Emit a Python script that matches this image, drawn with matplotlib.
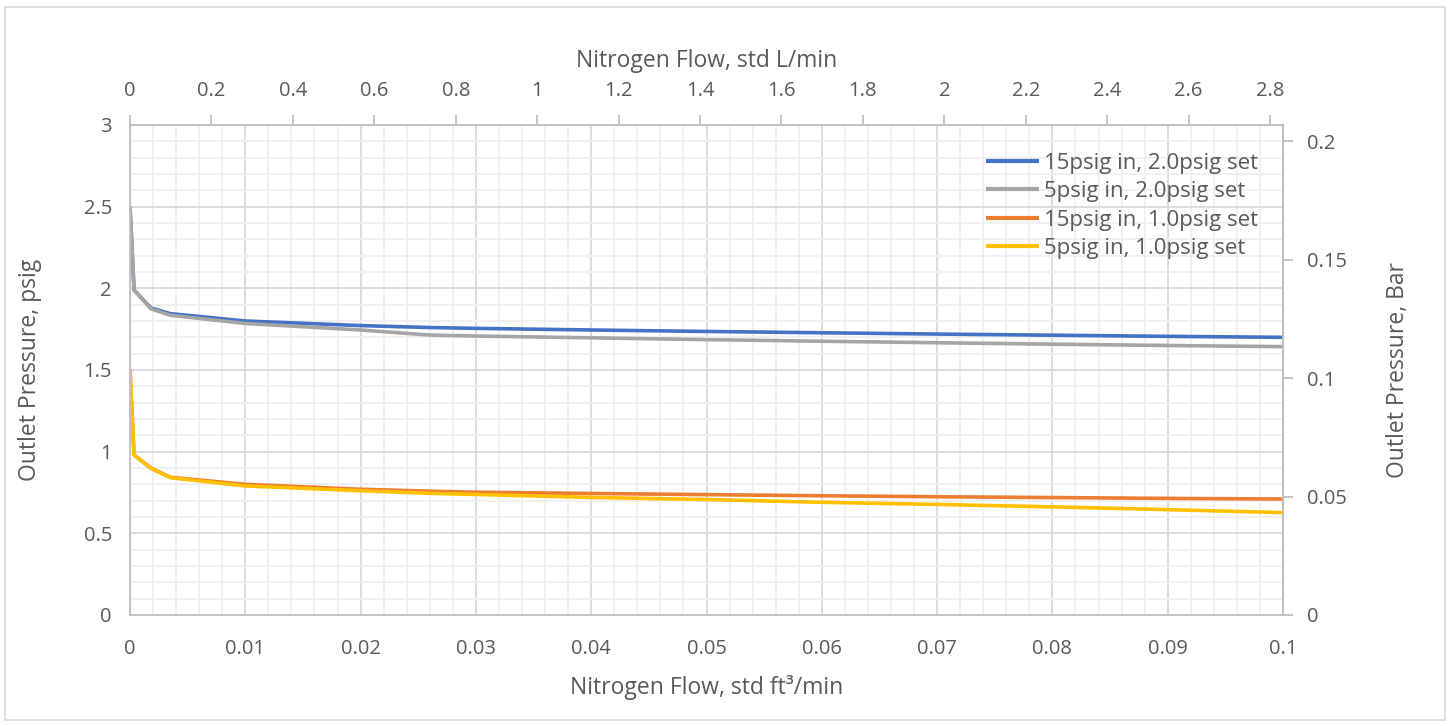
import numpy as np
import matplotlib.pyplot as plt
from matplotlib.ticker import MultipleLocator
from matplotlib.patches import Rectangle

# flow in std ft3/min
flow = [0, 0.00035, 0.0018, 0.0035, 0.01, 0.02, 0.026, 0.03, 0.04, 0.05, 0.06, 0.07, 0.08, 0.09, 0.1]

p_15_20 = [2.5, 1.99, 1.88, 1.845, 1.80, 1.772, 1.76, 1.755, 1.745, 1.736, 1.728, 1.72, 1.713, 1.706, 1.70]
p_5_20 = [2.5, 1.99, 1.875, 1.835, 1.785, 1.745, 1.714, 1.708, 1.697, 1.686, 1.676, 1.667, 1.658, 1.650, 1.643]
p_15_10 = [1.5, 0.98, 0.90, 0.843, 0.80, 0.77, 0.758, 0.752, 0.744, 0.737, 0.730, 0.724, 0.719, 0.714, 0.71]
p_5_10 = [1.5, 0.98, 0.898, 0.841, 0.79, 0.761, 0.745, 0.738, 0.72, 0.707, 0.69, 0.677, 0.662, 0.645, 0.627]

labels = ["15psig in, 2.0psig set", "5psig in, 2.0psig set",
          "15psig in, 1.0psig set", "5psig in, 1.0psig set"]
colors = ["#4472C4", "#A5A5A5", "#ED7D31", "#FFC000"]

LPM = 28.3168
BAR = 0.0689476
txt = "#595959"
TICK = 14.5
LAB = 16.5

plt.rcParams['font.family'] = ['Open Sans', 'DejaVu Sans']

fig = plt.figure(figsize=(14.51, 7.26), dpi=100)
ax = fig.add_axes([130/1451, 1 - 615/726, 1153/1451, 490/726])

fig.patches.append(Rectangle((5/1451, 6/726), 1440/1451, 713/726, transform=fig.transFigure,
                             fill=False, edgecolor="#d9d9d9", lw=1.2))

for y, lab, c in zip([p_15_20, p_5_20, p_15_10, p_5_10], labels, colors):
    ax.plot(flow, y, color=c, lw=2.6, label=lab, solid_capstyle="butt")

ax.set_xlim(0, 0.1)
ax.set_ylim(0, 3)
ax.xaxis.set_major_locator(MultipleLocator(0.01))
ax.xaxis.set_minor_locator(MultipleLocator(0.002))
ax.yaxis.set_major_locator(MultipleLocator(0.5))
ax.yaxis.set_minor_locator(MultipleLocator(0.1))
ax.grid(which="major", color="#d9d9d9", lw=1.3)
ax.grid(which="minor", color="#efefef", lw=1.3)
ax.set_axisbelow(True)
ax.xaxis.set_major_formatter(lambda v, p: f"{v:g}" if abs(v) > 1e-9 else "0")
ax.yaxis.set_major_formatter(lambda v, p: f"{v:g}")

for s in ax.spines.values():
    s.set_color("#bfbfbf")
    s.set_linewidth(1.3)
ax.tick_params(which="both", length=0, colors=txt, labelsize=TICK)
ax.tick_params(axis="x", pad=17)
ax.tick_params(axis="y", pad=13)

top = ax.secondary_xaxis("top", functions=(lambda x: x * LPM, lambda x: x / LPM))
top.xaxis.set_major_locator(MultipleLocator(0.2))
top.xaxis.set_major_formatter(lambda v, p: f"{v:g}" if abs(v) > 1e-9 else "0")
top.tick_params(length=7, width=1.3, color="#bfbfbf", labelcolor=txt, labelsize=TICK, pad=10)
top.spines["top"].set_color("#bfbfbf")
top.set_xlabel("Nitrogen Flow, std L/min", color=txt, fontsize=LAB, labelpad=10)
top.yaxis.set_visible(False)

right = ax.secondary_yaxis("right", functions=(lambda y: y * BAR, lambda y: y / BAR))
right.yaxis.set_major_locator(MultipleLocator(0.05))
right.yaxis.set_major_formatter(lambda v, p: f"{v:g}")
right.tick_params(length=7, width=1.3, color="#bfbfbf", labelcolor=txt, labelsize=TICK, pad=10)
right.spines["right"].set_color("#bfbfbf")
right.set_ylabel("Outlet Pressure, Bar", color=txt, fontsize=LAB, labelpad=28)
right.xaxis.set_visible(False)

ax.set_xlabel("Nitrogen Flow, std ft³/min", color=txt, fontsize=LAB, labelpad=12)
ax.set_ylabel("Outlet Pressure, psig", color=txt, fontsize=LAB, labelpad=30)

leg = ax.legend(loc="upper right", bbox_to_anchor=(0.978, 0.943), frameon=False,
                fontsize=16, handlelength=2.4, handletextpad=0.2, labelspacing=0.33,
                borderpad=0, borderaxespad=0, labelcolor=txt)
for h in leg.get_lines():
    h.set_linewidth(3.0)

fig.savefig("out.png", dpi=100, facecolor="white")
